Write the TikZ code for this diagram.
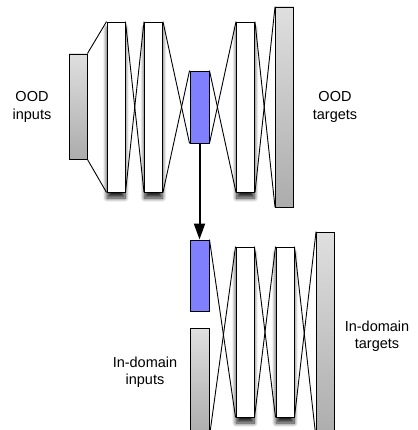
\documentclass[tikz,border=0pt]{standalone}
\usepackage{fontspec}
\setmainfont{Liberation Sans}
\usetikzlibrary{arrows.meta,shadows.blur}

\begin{document}
\begin{tikzpicture}[x=1pt,y=-1pt, line width=0.9pt,
    layer/.style={draw=black, fill=white, inner sep=0pt, minimum width=18pt, minimum height=170pt,
        blur shadow={shadow xshift=0pt, shadow yshift=-6pt, shadow blur radius=4pt, shadow blur steps=10, shadow opacity=85}},
    datum/.style={draw=black, inner sep=0pt, minimum width=18pt, top color=gray!25, bottom color=gray!65},
    code/.style={draw=black, inner sep=0pt, minimum width=19pt, minimum height=72pt, fill=blue!50!white},
    lab/.style={align=center, font=\fontsize{14.5}{17.5}\selectfont}]
    \useasboundingbox (0,0) rectangle (417,430);
    \clip (0,0) rectangle (417,430);
    % OOD network
    \node[datum, minimum height=105pt] (ood_in) at (78,106.5) {};
    \node[layer] (ood_l1) at (116,107) {};
    \node[layer] (ood_l2) at (153.5,107) {};
    \node[code] (ood_code) at (199.5,107) {};
    \node[layer] (ood_l3) at (245.5,107) {};
    \node[datum, minimum height=200pt] (ood_out) at (284.5,107) {};
    \draw (ood_in.north east) -- (ood_l1.north west);
    \draw (ood_in.south east) -- (ood_l1.south west);
    \draw (ood_l1.north east) -- (ood_l2.south west);
    \draw (ood_l1.south east) -- (ood_l2.north west);
    \draw (ood_l2.north east) -- (ood_code.south west);
    \draw (ood_l2.south east) -- (ood_code.north west);
    \draw (ood_code.north east) -- (ood_l3.south west);
    \draw (ood_code.south east) -- (ood_l3.north west);
    \draw (ood_l3.north east) -- (ood_out.south west);
    \draw (ood_l3.south east) -- (ood_out.north west);
    \node[lab] (ood_in_lab) at (32,107) {OOD\\inputs};
    \node[lab] (ood_out_lab) at (335,107) {OOD\\targets};
    % in-domain network
    \node[code, minimum height=71pt] (id_code) at (199.5,275.5) {};
    \node[datum, minimum width=19pt, minimum height=108pt] (id_in) at (199.5,382) {};
    \node[layer] (id_l1) at (245,332) {};
    \node[layer] (id_l2) at (285,332) {};
    \node[datum, minimum height=206pt] (id_out) at (325.5,335) {};
    \draw (id_code.north east) -- (id_l1.south west);
    \draw (id_in.south east) -- (id_l1.north west);
    \draw (id_l1.north east) -- (id_l2.south west);
    \draw (id_l1.south east) -- (id_l2.north west);
    \draw (id_l2.north east) -- (id_out.south west);
    \draw (id_l2.south east) -- (id_out.north west);
    \node[lab] (id_in_lab) at (145,372) {In-domain\\inputs};
    \node[lab] (id_out_lab) at (377,336) {In-domain\\targets};
    % transfer of the code
    \draw[line width=2pt, -{Triangle[length=16pt,width=11pt]}] (ood_code.south) -- (id_code.north);
\end{tikzpicture}
\end{document}
